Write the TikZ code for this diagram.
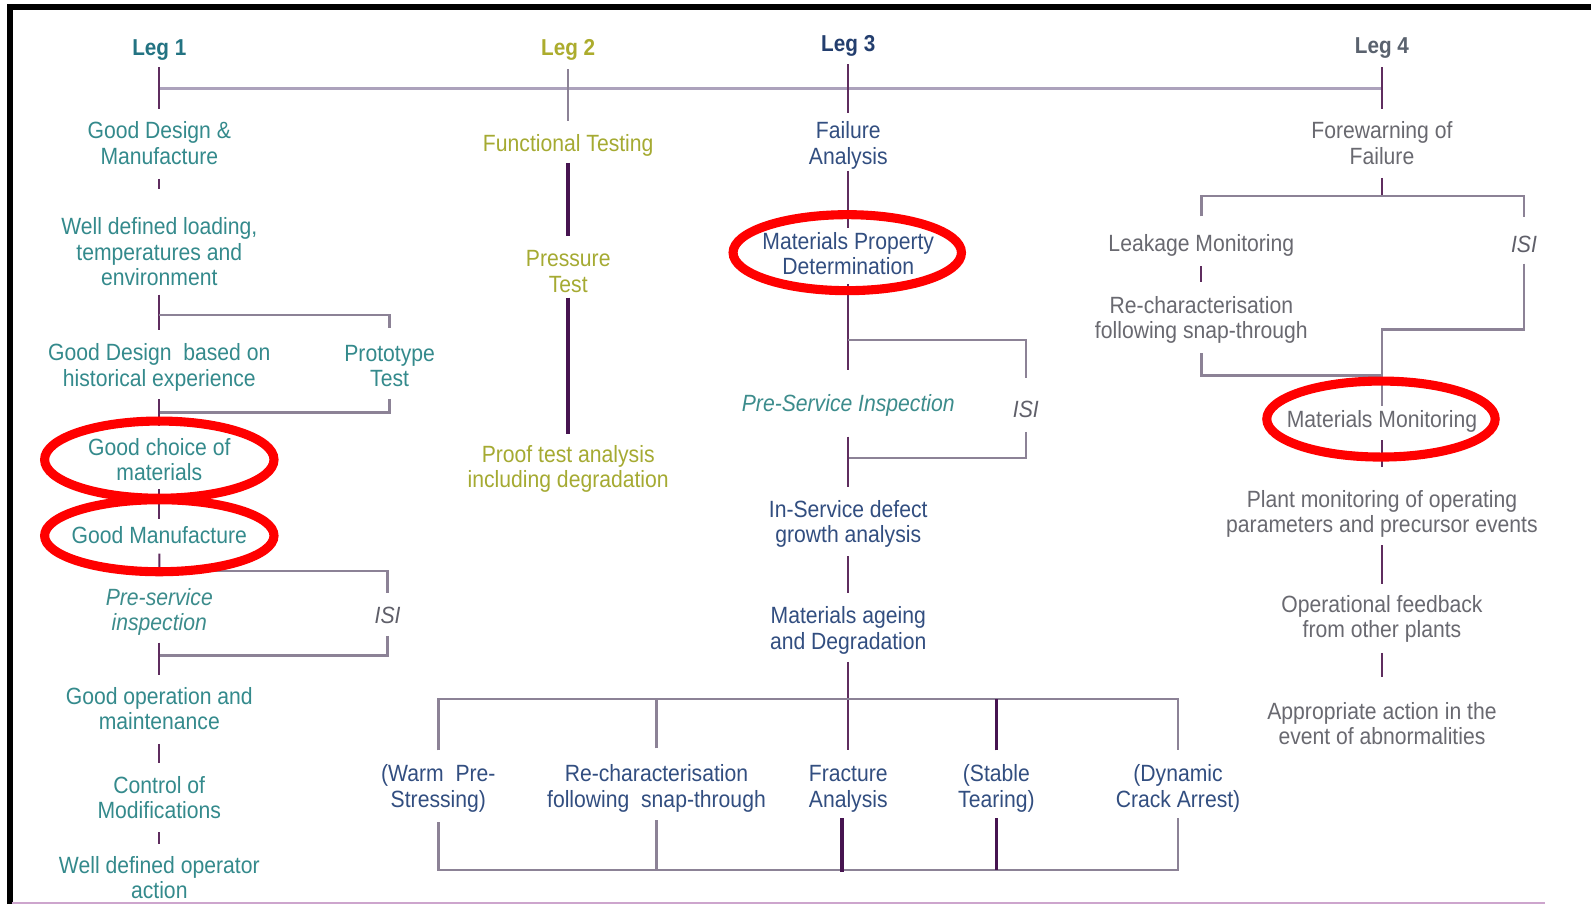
\documentclass[tikz,border=0pt]{standalone}
\usepackage{fontspec}
\setmainfont{Liberation Sans}[FakeStretch=0.9]
\usetikzlibrary{calc}
\definecolor{legA}{RGB}{35,115,130}
\definecolor{colA}{RGB}{52,138,140}
\definecolor{legB}{RGB}{172,172,45}
\definecolor{colB}{RGB}{165,170,50}
\definecolor{legC}{RGB}{35,62,110}
\definecolor{colC}{RGB}{50,78,128}
\definecolor{legD}{RGB}{90,98,110}
\definecolor{colD}{RGB}{105,105,112}
\definecolor{isic}{RGB}{95,95,105}
\definecolor{tealit}{RGB}{60,140,140}
\definecolor{vlinec}{RGB}{95,45,95}
\definecolor{thickc}{RGB}{70,20,80}
\definecolor{blinec}{RGB}{140,130,150}
\definecolor{barc}{RGB}{172,162,188}
\definecolor{pinkc}{RGB}{205,165,205}
\newcommand{\topst}{\rule{0pt}{21.5pt}}
\newcommand{\botst}{\rule[-4.5pt]{0pt}{4.5pt}}
\begin{document}
\begin{tikzpicture}[x=1.0147pt,y=-1.0147pt,
  txt/.style={font=\fontsize{23.5}{25.4}\selectfont, align=center, inner sep=0pt, outer sep=0pt},
  one/.style={txt, minimum height=25.4pt},
  two/.style={txt, minimum height=50.8pt},
  three/.style={txt, minimum height=76.2pt},
  itl/.style={font=\fontsize{23.5}{25.4}\selectfont\itshape},
  legl/.style={font=\fontsize{23}{25.4}\selectfont\bfseries, inner sep=0pt, outer sep=0pt, minimum height=25.4pt},
  vline/.style={draw=vlinec, line width=2pt},
  thickline/.style={draw=thickc, line width=3.8pt},
  bline/.style={draw=blinec, line width=2.4pt},
  topbar/.style={draw=barc, line width=3pt},
  redring/.style={draw=red, line width=9.1pt}
]
\useasboundingbox (0,0) rectangle (1568,891);
\fill[white] (0,0) rectangle (1568,891);

% frame
\draw[line width=5.5pt, line join=miter] (9.9,891) -- (9.9,6.9) -- (1568,6.9);
\draw[line width=2pt, pinkc] (12,890) -- (1523,890);

% leg labels
\node[legl, text=legA] (leg1) at (157,47) {\topst Leg 1\botst};
\node[legl, text=legB] (leg2) at (560,47) {\topst Leg 2\botst};
\node[legl, text=legC] (leg3) at (836,43) {\topst Leg 3\botst};
\node[legl, text=legD] (leg4) at (1362,45) {\topst Leg 4\botst};

% Leg 1
\node[two, text=colA] (gdm) at (157,141) {\topst Good Design \&\\Manufacture\botst};
\node[three, text=colA] (wdl) at (157,248) {\topst Well defined loading,\\temperatures and\\environment\botst};
\node[two, text=colA] (gdh) at (157,360) {\topst Good Design\ \ based on\\historical experience\botst};
\node[two, text=colA] (proto) at (384,360) {\topst Prototype\\Test\botst};
\node[two, text=colA] (gcm) at (157,453) {\topst Good choice of\\materials\botst};
\node[one, text=colA] (gm) at (157,527) {\topst Good Manufacture\botst};
\node[two, itl, text=tealit] (psi) at (157,601) {\topst Pre-service\\inspection\botst};
\node[one, itl, text=isic] (isi1) at (382,606) {\topst ISI\botst};
\node[two, text=colA] (goa) at (157,698) {\topst Good operation and\\maintenance\botst};
\node[two, text=colA] (com) at (157,786) {\topst Control of\\Modifications\botst};
\node[two, text=colA] (wdo) at (157,865) {\topst Well defined operator\\action\botst};

% Leg 2
\node[one, text=colB] (ft) at (560,141) {\topst Functional Testing\botst};
\node[two, text=colB] (pt) at (560,267) {\topst Pressure\\Test\botst};
\node[two, text=colB] (ptd) at (560,460) {\topst Proof test analysis\\including degradation\botst};

% Leg 3
\node[two, text=colC] (fa) at (836,141) {\topst Failure\\Analysis\botst};
\node[two, text=colC] (mpd) at (836,250) {\topst Materials Property\\Determination\botst};
\node[one, itl, text=tealit] (psi3) at (836,397) {\topst Pre-Service Inspection\botst};
\node[one, itl, text=isic] (isi3) at (1011,403) {\topst ISI\botst};
\node[two, text=colC] (isd) at (836,514) {\topst In-Service defect\\growth analysis\botst};
\node[two, text=colC] (mad) at (836,619) {\topst Materials ageing\\and Degradation\botst};
\node[two, text=colC] (wps) at (432,775) {\topst (Warm\ \ Pre-\\Stressing)\botst};
\node[two, text=colC] (rcs) at (647,775) {\topst Re-characterisation\\following\ \ snap-through\botst};
\node[two, text=colC] (fra) at (836,775) {\topst Fracture\\Analysis\botst};
\node[two, text=colC] (stt) at (982,775) {\topst (Stable\\Tearing)\botst};
\node[two, text=colC] (dca) at (1161,775) {\topst (Dynamic\\Crack Arrest)\botst};

% Leg 4
\node[two, text=colD] (fw) at (1362,141) {\topst Forewarning of\\Failure\botst};
\node[one, text=colD] (lm) at (1184,240) {\topst Leakage Monitoring\botst};
\node[one, itl, text=isic] (isi4) at (1502,240) {\topst ISI\botst};
\node[two, text=colD] (rcf) at (1184,313) {\topst Re-characterisation\\following snap-through\botst};
\node[one, text=colD] (mm) at (1362,413) {\topst Materials Monitoring\botst};
\node[two, text=colD] (pmo) at (1362,504) {\topst Plant monitoring of operating\\parameters and precursor events\botst};
\node[two, text=colD] (ofb) at (1362,608) {\topst Operational feedback\\from other plants\botst};
\node[two, text=colD] (aa) at (1362,713) {\topst Appropriate action in the\\event of abnormalities\botst};

% top bar and leg stems
\coordinate (barL) at (157,87);
\coordinate (barR) at (1362,87);
\draw[topbar] (barL) -- (barR);
\draw[vline, shorten <=6.5pt, shorten >=8pt] (leg1) -- (gdm);
\draw[bline, line width=1.8pt, shorten <=8.5pt, shorten >=8.5pt] (leg2) -- (ft);
\draw[vline, shorten <=7.5pt, shorten >=4pt] (leg3) -- (fa);
\draw[vline, shorten <=8.5pt, shorten >=8pt] (leg4) -- (fw);

% Leg 1 connectors
\draw[vline, shorten <=10pt, shorten >=24.5pt] (gdm) -- (wdl);
\draw[vline, shorten <=4.5pt, shorten >=9pt] (wdl) -- (gdh);
\draw[bline] ($(wdl.south)!.5!(gdh.north)$) -| ([yshift=12pt]proto.north);
\draw[bline] ([yshift=-8pt]proto.south) |- ($(gdh.south)!.5!(gcm.north)$);
\draw[vline, shorten <=8pt, shorten >=8pt] (gdh) -- (gcm);
\draw[vline, shorten <=4pt, shorten >=3pt] (gcm) -- (gm);
\draw[vline] ([yshift=-6pt]gm.south) -- ($(gm.south)!.64!(psi.north)$);
\draw[bline] ($(gm.south)!.64!(psi.north)$) -| ([yshift=9pt]isi1.north);
\draw[bline] ([yshift=-8pt]isi1.south) |- ($(psi.south)!.42!(goa.north)$);
\draw[vline, shorten <=7pt, shorten >=8pt] (psi) -- (goa);
\draw[vline, shorten <=10pt, shorten >=9pt] (goa) -- (com);
\draw[vline, shorten <=9pt, shorten >=8pt] (com) -- (wdo);

% Leg 2 connectors
\draw[thickline, shorten <=6.5pt, shorten >=9pt] (ft) -- (pt);
\draw[thickline, shorten <=1pt, shorten >=7pt] (pt) -- (ptd);

% Leg 3 connectors
\draw[vline, shorten <=2pt] (fa) -- (mpd);
\draw[vline, shorten <=5pt, shorten >=19.5pt] (mpd) -- (psi3);
\draw[bline] ($(mpd.south)!.55!(psi3.north)$) -| ([yshift=18pt]isi3.north);
\draw[bline] ([yshift=-10pt]isi3.south) |- ($(psi3.south)!.53!(isd.north)$);
\draw[vline, shorten <=20.5pt, shorten >=9pt] (psi3) -- (isd);
\draw[vline, shorten <=9pt, shorten >=9pt] (isd) -- (mad);
\draw[vline, shorten <=8pt, shorten >=10pt] (mad) -- (fra);
\coordinate (topc) at ($(mad.south)!.42!(fra.north)$);
\draw[bline] ([yshift=10pt]wps.north) |- (topc) -| ([yshift=10pt]dca.north);
\draw[bline] ([yshift=12pt]rcs.north) -- (rcs.north |- topc);
\draw[thickline] ([yshift=10pt]stt.north) -- (stt.north |- topc);
\coordinate (botc) at ([yshift=-58pt]fra.south);
\draw[bline] ([yshift=-10pt]wps.south) |- (botc) -| ([yshift=-6pt]dca.south);
\draw[bline] ([yshift=-8pt]rcs.south) -- (rcs.south |- botc);
\draw[thickline] ([xshift=-6pt,yshift=-6pt]fra.south) -- ++(0,53);
\draw[thickline] ([yshift=-6pt]stt.south) -- (stt.south |- botc);

% Leg 4 connectors
\coordinate (fwb) at ([yshift=-27pt]fw.south);
\draw[vline] ([yshift=-9pt]fw.south) -- (fwb);
\draw[bline] ([yshift=14pt]lm.north) |- (fwb) -| ([yshift=14pt]isi4.north);
\draw[vline, shorten <=9.5pt, shorten >=10pt] (lm) -- (rcf);
\coordinate (rcj) at ([yshift=-32pt]rcf.south);
\draw[bline] ([yshift=-10pt]rcf.south) |- (mm.north |- rcj);
\coordinate (isj) at ([yshift=-73pt]isi4.south);
\draw[bline] ([yshift=-7pt]isi4.south) -- (isj) -| (mm.north);
\draw[vline, shorten <=8pt, shorten >=19pt] (mm) -- (pmo);
\draw[vline, shorten <=8pt, shorten >=7pt] (pmo) -- (ofb);
\draw[vline, shorten <=10pt, shorten >=21pt] (ofb) -- (aa);

% red highlight rings
\draw[redring] (gcm.center) ellipse [x radius=114.7pt, y radius=38.6pt];
\draw[redring] ([yshift=-1pt]gm.center) ellipse [x radius=114.7pt, y radius=36pt];
\draw[redring] ([xshift=-1pt,yshift=1pt]mpd.center) ellipse [x radius=114.2pt, y radius=38pt];
\draw[redring] ([xshift=-1pt]mm.center) ellipse [x radius=114.2pt, y radius=38pt];
\end{tikzpicture}
\end{document}
